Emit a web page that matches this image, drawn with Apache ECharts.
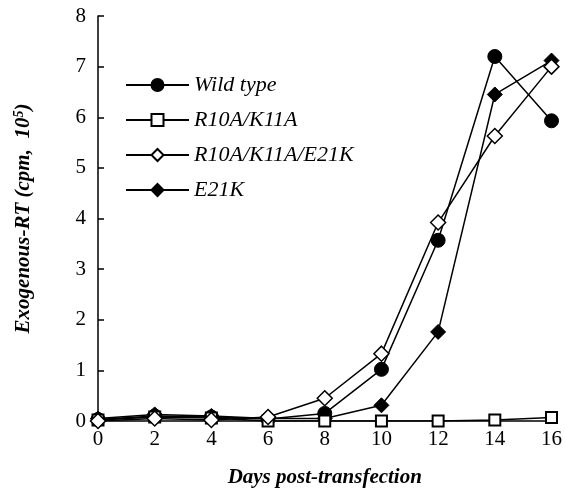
<!DOCTYPE html>
<html>
<head>
<meta charset="utf-8">
<script src="https://cdn.jsdelivr.net/npm/echarts@6/dist/echarts.min.js"></script>
<style>html,body{margin:0;padding:0;background:#fff}#c{width:565px;height:493px}</style>
</head>
<body>
<div id="c"></div>
<script>
var days = [0, 2, 4, 6, 8, 10, 12, 14, 16];
var wildType = [0.03, 0.10, 0.08, 0.04, 0.15, 1.02, 3.57, 7.20, 5.93];
var r10aK11a = [0.02, 0.08, 0.06, 0.00, 0.00, 0.00, 0.00, 0.02, 0.07];
var r10aK11aE21k = [0.00, 0.05, 0.02, 0.08, 0.45, 1.33, 3.92, 5.63, 7.00];
var e21k = [0.05, 0.13, 0.10, 0.05, 0.05, 0.31, 1.76, 6.45, 7.12];
var seriesNames = ['Wild type', 'R10A/K11A', 'R10A/K11A/E21K', 'E21K'];

function pairs(v) { return days.map(function (d, i) { return [d, v[i]]; }); }
var font = 'Liberation Serif';
var chart = echarts.init(document.getElementById('c'));
chart.setOption({
  animation: false,
  backgroundColor: '#fff',
  grid: { left: 98, right: 11, top: 16, bottom: 69, containLabel: false },
  legend: {
    data: seriesNames,
    orient: 'vertical',
    left: 125, top: 74, padding: 0,
    itemWidth: 63, itemHeight: 15, itemGap: 13,
    textStyle: { fontFamily: font, fontStyle: 'italic', fontSize: 22, color: '#000' }
  },
  xAxis: {
    type: 'value', min: 0, max: 16, interval: 2,
    name: 'Days post-transfection', nameLocation: 'middle', nameGap: 46,
    nameTextStyle: { fontFamily: font, fontStyle: 'italic', fontWeight: 'bold', fontSize: 21, color: '#000' },
    axisLine: { show: true, lineStyle: { color: '#000', width: 1.5 } },
    axisTick: { show: false },
    splitLine: { show: false },
    axisLabel: { fontFamily: font, fontSize: 21, color: '#000', margin: 8 }
  },
  yAxis: {
    type: 'value', min: 0, max: 8, interval: 1,
    name: '{a|Exogenous-RT (cpm,  10}{s|5}{a|)}', nameLocation: 'middle', nameGap: 62, nameRotate: 90,
    nameTextStyle: {
      rich: {
        a: { fontFamily: font, fontStyle: 'italic', fontWeight: 'bold', fontSize: 21, color: '#000' },
        s: { fontFamily: font, fontStyle: 'italic', fontWeight: 'bold', fontSize: 14, color: '#000', padding: [0, 0, 10, 0] }
      }
    },
    axisLine: { show: true, lineStyle: { color: '#000', width: 1.5 } },
    axisTick: { show: true, inside: true, length: 6, lineStyle: { color: '#000', width: 1.5 } },
    splitLine: { show: false },
    axisLabel: { fontFamily: font, fontSize: 21, color: '#000', margin: 12 }
  },
  series: [
    { name: 'E21K', type: 'line', data: pairs(e21k), symbol: 'diamond', symbolSize: 15,
      lineStyle: { color: '#000', width: 1.5 }, itemStyle: { color: '#000', borderColor: '#000', borderWidth: 1 }, z: 2 },
    { name: 'Wild type', type: 'line', data: pairs(wildType), symbol: 'circle', symbolSize: 14,
      lineStyle: { color: '#000', width: 1.5 }, itemStyle: { color: '#000', borderColor: '#000', borderWidth: 1 }, z: 3 },
    { name: 'R10A/K11A', type: 'line', data: pairs(r10aK11a), symbol: 'rect', symbolSize: 11,
      lineStyle: { color: '#000', width: 1.5 }, itemStyle: { color: '#fff', borderColor: '#000', borderWidth: 2 }, z: 4 },
    { name: 'R10A/K11A/E21K', type: 'line', data: pairs(r10aK11aE21k), symbol: 'diamond', symbolSize: 15,
      lineStyle: { color: '#000', width: 1.5 }, itemStyle: { color: '#fff', borderColor: '#000', borderWidth: 1.5 }, z: 5 }
  ]
});
</script>
</body>
</html>
